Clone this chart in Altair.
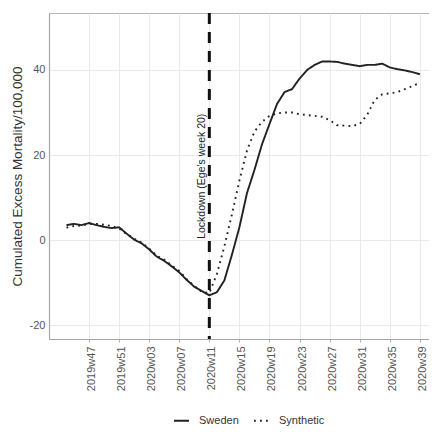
import altair as alt
import pandas as pd

weeks = [
    "2019w44", "2019w45", "2019w46", "2019w47", "2019w48", "2019w49", "2019w50",
    "2019w51", "2019w52", "2020w01", "2020w02", "2020w03", "2020w04", "2020w05",
    "2020w06", "2020w07", "2020w08", "2020w09", "2020w10", "2020w11", "2020w12",
    "2020w13", "2020w14", "2020w15", "2020w16", "2020w17", "2020w18", "2020w19",
    "2020w20", "2020w21", "2020w22", "2020w23", "2020w24", "2020w25", "2020w26",
    "2020w27", "2020w28", "2020w29", "2020w30", "2020w31", "2020w32", "2020w33",
    "2020w34", "2020w35", "2020w36", "2020w37", "2020w38", "2020w39",
]

sweden = [
    3.5, 3.8, 3.5, 4.0, 3.5, 3.1, 2.8, 3.0, 1.5, 0.1, -0.8, -2.2, -3.9, -4.9,
    -6.2, -7.6, -9.4, -11.0, -12.0, -13.0, -12.3, -9.5, -3.5, 3.0, 11.0, 16.5,
    22.5, 27.3, 32.0, 34.8, 35.5, 38.0, 40.0, 41.2, 42.0, 42.0, 41.9, 41.5,
    41.2, 40.9, 41.2, 41.2, 41.5, 40.6, 40.2, 39.9, 39.5, 39.0,
]

synthetic = [
    2.9, 3.3, 3.4, 3.8, 3.8, 3.6, 3.3, 2.7, 1.4, 0.3, -0.6, -2.0, -3.7, -4.6,
    -6.0, -7.3, -9.2, -10.8, -12.2, -12.5, -8.0, -1.5, 6.0, 14.0, 21.0, 25.5,
    27.8, 29.2, 29.8, 30.0, 30.0, 29.6, 29.4, 29.2, 29.0, 28.2, 27.0, 26.9,
    26.8, 27.3, 29.5, 33.0, 34.3, 34.5, 34.8, 35.5, 36.2, 37.0,
]

series_names = ["Sweden", "Synthetic"]
lockdown_week = "2020w11"
lockdown_label = "Lockdown (Ege's week 20)"
lockdown_label_y = 15

x_major_labels = ["2019w47", "2019w51", "2020w03", "2020w07", "2020w11", "2020w15",
                  "2020w19", "2020w23", "2020w27", "2020w31", "2020w35", "2020w39"]
x_minor_grid = ["2019w43", "2019w45", "2019w49", "2020w01", "2020w05", "2020w09",
                "2020w13", "2020w17", "2020w21", "2020w25", "2020w29", "2020w33",
                "2020w37"]
y_major = [-20, 0, 20, 40]
y_minor = [-10, 10, 30, 50]

rows = []
for name, vals in zip(series_names, [sweden, synthetic]):
    for i, (w, v) in enumerate(zip(weeks, vals)):
        rows.append({"week": w, "t": i, "value": v, "series": name})
df = pd.DataFrame(rows)


def week_pos(w):
    if w in weeks:
        return weeks.index(w)
    # week just before the first data week
    return weeks.index("2019w44") - (44 - int(w[-2:]))


x_major = [week_pos(w) for w in x_major_labels]
x_minor = [week_pos(w) for w in x_minor_grid]
label_map = "{" + ",".join(f"'{p}':'{w}'" for p, w in zip(x_major, x_major_labels)) + "}"

lock_t = weeks.index(lockdown_week)
lock_df = pd.DataFrame({"t": [lock_t], "value": [lockdown_label_y], "label": [lockdown_label]})

FONT = "Liberation Sans"
GRID = "#e8e8e8"
AXIS = "#a8a8a8"

x_scale = alt.Scale(domain=[-2.319, 49.14], nice=False, zero=False)
y_scale = alt.Scale(domain=[-23.29, 53.41], nice=False, zero=False)

x_axis = alt.Axis(
    values=x_major,
    labelExpr=f"{label_map}[''+datum.value]",
    labelAngle=-90,
    labelAlign="right",
    labelBaseline="middle",
    labelOffset=2.5,
    labelPadding=4,
    labelFontSize=11,
    labelColor="#555555",
    labelFont=FONT,
    labelOverlap=False,
    tickSize=3,
    tickColor="#b0b0b0",
    domainColor=AXIS,
    domainWidth=1.2,
    gridColor=GRID,
    gridWidth=0.9,
    title=None,
)

x_minor_axis = alt.Axis(
    orient="top", values=x_minor, labels=False, ticks=False, domain=False,
    gridColor=GRID, gridWidth=0.9, title=None,
)

y_axis = alt.Axis(
    values=y_major,
    labelExpr="'' + datum.value",
    ticks=False,
    labelPadding=4,
    labelFontSize=11,
    labelColor="#555555",
    labelFont=FONT,
    domainColor=AXIS,
    domainWidth=1.2,
    gridColor=GRID,
    gridWidth=0.9,
    title="Cumulated Excess Mortality/100,000",
    titleFont=FONT,
    titleFontSize=13.5,
    titleFontWeight="normal",
    titleColor="#333333",
    titleAngle=-90,
    titleX=-32,
    titleY=163,
    titleAlign="center",
    titleBaseline="middle",
)

y_minor_axis = alt.Axis(
    orient="right", values=y_minor, labels=False, ticks=False, domain=False,
    gridColor=GRID, gridWidth=0.9, title=None,
)

lines = alt.Chart(df).mark_line(strokeWidth=1.9, color="#222222").encode(
    x=alt.X("t:Q", scale=x_scale, axis=x_axis),
    y=alt.Y("value:Q", scale=y_scale, axis=y_axis),
    strokeDash=alt.StrokeDash(
        "series:N",
        scale=alt.Scale(domain=series_names, range=[[1, 0], [1.8, 4.2]]),
        legend=alt.Legend(
            title=None,
            orient="none",
            legendX=124,
            legendY=399,
            direction="horizontal",
            symbolType="stroke",
            symbolSize=225,
            symbolStrokeWidth=1.9,
            symbolStrokeColor="#222222",
            labelFont=FONT,
            labelFontSize=11,
            labelColor="#333333",
            labelOffset=9,
            columnPadding=11,
        ),
    ),
)

rule = alt.Chart(lock_df).mark_rule(
    color="#111111", strokeWidth=3, strokeDash=[11, 8]
).encode(x=alt.X("t:Q", scale=x_scale, axis=x_minor_axis))

label = alt.Chart(lock_df).mark_text(
    angle=270, align="center", baseline="bottom", dy=-2.5,
    fontSize=10.5, font=FONT, color="#222222"
).encode(
    x=alt.X("t:Q", scale=x_scale, axis=None),
    y=alt.Y("value:Q", scale=y_scale, axis=y_minor_axis),
    text="label:N",
)

chart = (
    alt.layer(lines, rule, label)
    .resolve_axis(x="independent", y="independent")
    .properties(
        width=387,
        height=326,
        autosize=alt.AutoSizeParams(type="none"),
        padding={"left": 41, "top": 5, "right": -7, "bottom": 88},
        background="white",
    )
    .configure_view(stroke="#b5b5b5", strokeWidth=1)
)

chart.save("out.html", embed_options={"renderer": "svg", "actions": False})
